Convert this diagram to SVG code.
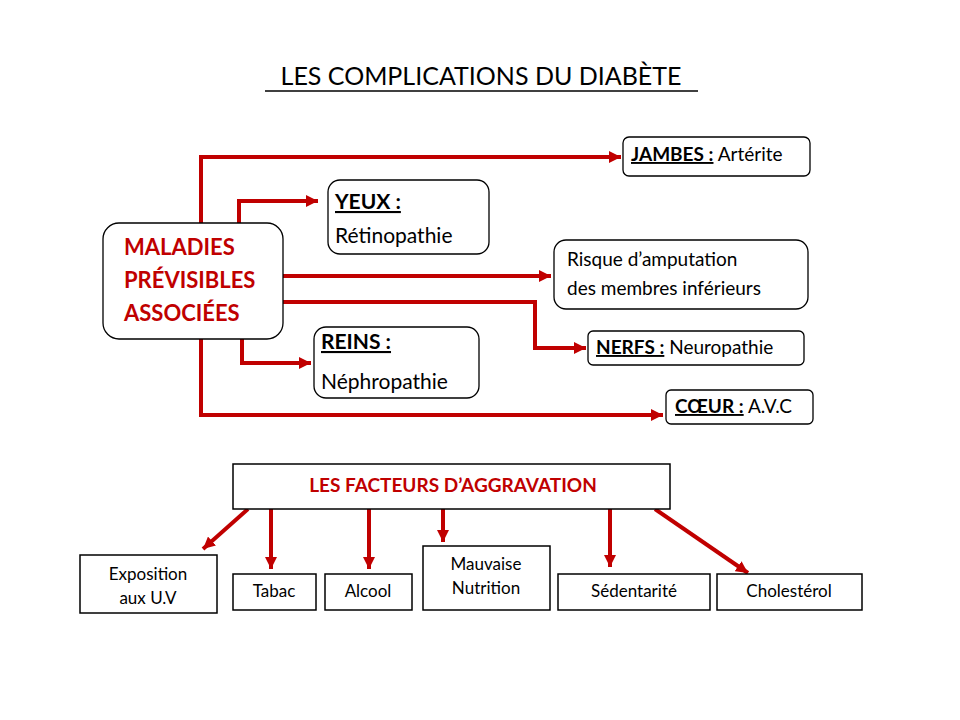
<svg xmlns="http://www.w3.org/2000/svg" width="960" height="720" viewBox="0 0 960 720">
<style>
text{font-family:Lato,"Open Sans","Liberation Sans",sans-serif;fill:#000}
.rb{fill:#fff;stroke:#000;stroke-width:1.3}
.b{fill:#fff;stroke:#000;stroke-width:1.5}
.c{fill:none;stroke:#c00000;stroke-width:4}
.red{fill:#c00000;font-weight:bold}
.t{font-size:19px}
.s{font-size:17px}
</style>
<defs>
<marker id="a" viewBox="0 0 10 10" refX="10" refY="5" markerWidth="3" markerHeight="3" orient="auto" markerUnits="strokeWidth"><path d="M0,0L10,5L0,10z" fill="#c00000"/></marker>
</defs>
<rect width="960" height="720" fill="#fff"/>
<text x="481" y="85" font-size="25" text-anchor="middle">LES COMPLICATIONS DU DIABÈTE</text>
<line x1="265" y1="91" x2="698" y2="91" stroke="#000" stroke-width="1.5"/>
<g id="connectors">
<polyline class="c" points="201,223 201,157 621,157" marker-end="url(#a)"/>
<polyline class="c" points="239,223 239,201 318,201" marker-end="url(#a)"/>
<polyline class="c" points="283,276 551,276" marker-end="url(#a)"/>
<polyline class="c" points="283,302 535,302 535,348 586,348" marker-end="url(#a)"/>
<polyline class="c" points="242,339 242,363 311,363" marker-end="url(#a)"/>
<polyline class="c" points="201,339 201,415 663,415" marker-end="url(#a)"/>
<line class="c" x1="248" y1="509" x2="203" y2="549" marker-end="url(#a)"/>
<line class="c" x1="271" y1="509" x2="271" y2="569" marker-end="url(#a)"/>
<line class="c" x1="369" y1="509" x2="369" y2="569" marker-end="url(#a)"/>
<line class="c" x1="443" y1="509" x2="443" y2="542" marker-end="url(#a)"/>
<line class="c" x1="610" y1="509" x2="610" y2="567" marker-end="url(#a)"/>
<line class="c" x1="655" y1="509" x2="748" y2="573" marker-end="url(#a)"/>
</g>
<g id="maladies"><rect class="rb" x="103" y="223" width="180" height="116" rx="16"/>
<text class="red" font-size="22" x="124" y="255">MALADIES</text>
<text class="red" font-size="22" x="124" y="288">PRÉVISIBLES</text>
<text class="red" font-size="22" x="124" y="321">ASSOCIÉES</text></g>
<g id="jambes"><rect class="rb" x="623" y="137" width="187" height="39" rx="6"/>
<text class="t" x="631" y="161"><tspan font-weight="bold" text-decoration="underline">JAMBES :</tspan> Artérite</text></g>
<g id="yeux"><rect class="rb" x="328" y="180" width="161" height="74" rx="12"/>
<text font-size="21" x="335" y="209" font-weight="bold" text-decoration="underline">YEUX :</text>
<text font-size="21" x="335" y="243">Rétinopathie</text></g>
<g id="risque"><rect class="rb" x="554" y="240" width="254" height="69" rx="12"/>
<text class="t" x="567" y="266">Risque d’amputation</text>
<text class="t" x="567" y="295">des membres inférieurs</text></g>
<g id="nerfs"><rect class="rb" x="588" y="331" width="216" height="34" rx="5"/>
<text class="t" x="596" y="354"><tspan font-weight="bold" text-decoration="underline">NERFS :</tspan> Neuropathie</text></g>
<g id="reins"><rect class="rb" x="314" y="327" width="165" height="71" rx="12"/>
<text font-size="21" x="321" y="349" font-weight="bold" text-decoration="underline">REINS :</text>
<text font-size="21" x="321" y="389">Néphropathie</text></g>
<g id="coeur"><rect class="rb" x="666" y="390" width="147" height="34" rx="5"/>
<text class="t" x="675" y="413"><tspan font-weight="bold" text-decoration="underline">CŒUR :</tspan> A.V.C</text></g>
<g id="facteurs"><rect class="b" x="233" y="464" width="437" height="45"/>
<text class="red" font-size="19" x="453" y="492" text-anchor="middle">LES FACTEURS D’AGGRAVATION</text></g>
<g id="expo"><rect class="b" x="80" y="555" width="137" height="58"/>
<text class="s" x="148" y="580" text-anchor="middle">Exposition</text>
<text class="s" x="148" y="604" text-anchor="middle">aux U.V</text></g>
<g id="tabac"><rect class="b" x="233" y="574" width="83" height="36"/>
<text class="s" x="274" y="597" text-anchor="middle">Tabac</text></g>
<g id="alcool"><rect class="b" x="325" y="574" width="87" height="36"/>
<text class="s" x="368" y="597" text-anchor="middle">Alcool</text></g>
<g id="mauvaise"><rect class="b" x="423" y="546" width="127" height="64"/>
<text class="s" x="486" y="570" text-anchor="middle">Mauvaise</text>
<text class="s" x="486" y="594" text-anchor="middle">Nutrition</text></g>
<g id="sedentarite"><rect class="b" x="558" y="574" width="152" height="36"/>
<text class="s" x="634" y="597" text-anchor="middle">Sédentarité</text></g>
<g id="cholesterol"><rect class="b" x="717" y="574" width="145" height="36"/>
<text class="s" x="789" y="597" text-anchor="middle">Cholestérol</text></g>
</svg>
